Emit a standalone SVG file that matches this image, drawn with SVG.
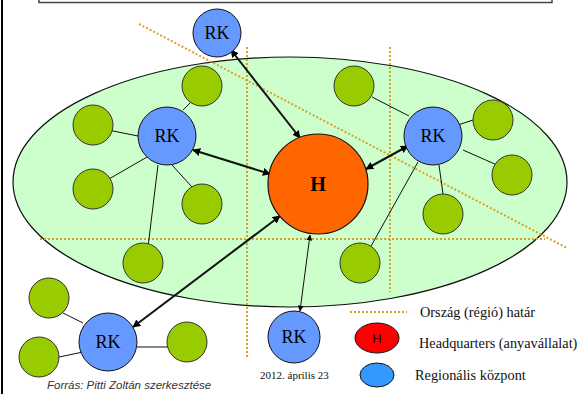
<svg xmlns="http://www.w3.org/2000/svg" width="587" height="394" viewBox="0 0 587 394">
<style>
.bd{stroke:#d9a024;stroke-width:2;stroke-dasharray:2,2;fill:none}
.g{fill:#99cc00;stroke:#333;stroke-width:1}
.rk{fill:#6699ff;stroke:#111;stroke-width:1}
.thin{stroke:#111;stroke-width:1;fill:none}
.bold{stroke:#111;stroke-width:2;fill:none;marker-start:url(#ah);marker-end:url(#ah)}
.rkt{font-family:"Liberation Serif",serif;font-size:18px;fill:#000;text-anchor:middle}
.leg{font-family:"Liberation Serif",serif;font-size:14.3px;fill:#111}
</style>
<defs>
<marker id="ah" viewBox="0 0 10 10" refX="9" refY="5" markerWidth="4" markerHeight="4" orient="auto-start-reverse" markerUnits="strokeWidth">
<path d="M0,0 L10,5 L0,10 z" fill="#000"/>
</marker>
<marker id="ahs" viewBox="0 0 10 10" refX="9" refY="5" markerWidth="6" markerHeight="6" orient="auto-start-reverse" markerUnits="strokeWidth">
<path d="M0,0 L10,5 L0,10 z" fill="#000"/>
</marker>
</defs>
<rect x="0" y="0" width="587" height="394" fill="#fff"/>
<rect x="1" y="0" width="2" height="394" fill="#000"/>
<rect x="39" y="-5" width="513" height="7.5" fill="#fff" stroke="#444" stroke-width="1.5"/>

<g id="region">
<ellipse cx="290" cy="182" rx="277" ry="125" fill="#ccffcc" stroke="#111" stroke-width="1.2"/>
</g>

<g id="borders">
<line class="bd" x1="247" y1="47" x2="247" y2="357"/>
<line class="bd" x1="390" y1="47" x2="390" y2="292"/>
<line class="bd" x1="40" y1="239" x2="545" y2="239"/>
<line class="bd" x1="139" y1="24" x2="567" y2="248"/>
</g>

<g id="connectors">
<line class="thin" x1="183" y1="110" x2="192" y2="101"/>
<line class="thin" x1="138" y1="136" x2="108" y2="130"/>
<line class="thin" x1="147" y1="157" x2="109" y2="179"/>
<line class="thin" x1="172" y1="165" x2="192" y2="187"/>
<line class="thin" x1="158" y1="165" x2="148" y2="247"/>
<line class="thin" x1="409" y1="116" x2="372" y2="97"/>
<line class="thin" x1="458" y1="125" x2="473" y2="120"/>
<line class="thin" x1="463" y1="150" x2="497" y2="165"/>
<line class="thin" x1="439" y1="165" x2="443" y2="194"/>
<line class="thin" x1="418" y1="162" x2="370" y2="248"/>
<line class="thin" x1="63" y1="313" x2="83" y2="323"/>
<line class="thin" x1="59" y1="357" x2="83" y2="352"/>
<line class="thin" x1="137" y1="347" x2="168" y2="347"/>
<line class="bold" x1="231" y1="50" x2="300" y2="138"/>
<line class="bold" x1="193" y1="150" x2="270" y2="174"/>
<line class="bold" x1="408" y1="146" x2="366" y2="169"/>
<line class="bold" x1="280" y1="216" x2="133" y2="327"/>
<line x1="310" y1="235" x2="300" y2="311" stroke="#111" stroke-width="1" marker-start="url(#ahs)" marker-end="url(#ahs)"/>
</g>

<g id="leaves">
<circle class="g" cx="202" cy="86" r="20"/>
<circle class="g" cx="93" cy="125" r="20"/>
<circle class="g" cx="93" cy="189" r="20"/>
<circle class="g" cx="202" cy="204" r="20"/>
<circle class="g" cx="143" cy="263" r="20"/>
<circle class="g" cx="354" cy="86" r="20"/>
<circle class="g" cx="493" cy="120" r="20"/>
<circle class="g" cx="512" cy="175" r="20"/>
<circle class="g" cx="443" cy="214" r="20"/>
<circle class="g" cx="360" cy="263" r="20"/>
<circle class="g" cx="49" cy="298" r="20"/>
<circle class="g" cx="39" cy="357" r="20"/>
<circle class="g" cx="187" cy="342" r="20"/>
</g>

<g id="hq">
<circle cx="318" cy="184" r="50" fill="#ff6600" stroke="#111" stroke-width="1.2"/>
<text x="318" y="191" font-family="Liberation Serif,serif" font-size="20" font-weight="bold" text-anchor="middle">H</text>
</g>
<g id="rk-top">
<circle class="rk" cx="217" cy="33" r="24"/>
<text class="rkt" x="217" y="39" font-size="16">RK</text>
</g>
<g id="rk-left">
<circle class="rk" cx="167" cy="136" r="29"/>
<text class="rkt" x="167" y="142">RK</text>
</g>
<g id="rk-right">
<circle class="rk" cx="433" cy="136" r="29"/>
<text class="rkt" x="433" y="142">RK</text>
</g>
<g id="rk-bottom">
<circle class="rk" cx="294" cy="337" r="26"/>
<text class="rkt" x="294" y="343">RK</text>
</g>
<g id="rk-bottomleft">
<circle class="rk" cx="108" cy="342" r="29"/>
<text class="rkt" x="108" y="348">RK</text>
</g>

<g id="legend">
<line class="bd" x1="350" y1="312" x2="407" y2="312"/>
<text class="leg" x="420" y="317">Ország (régió) határ</text>
<ellipse cx="377" cy="338" rx="22" ry="15" fill="#ff0000" stroke="#111" stroke-width="1"/>
<text x="377" y="343" font-family="Liberation Sans,sans-serif" font-size="13" text-anchor="middle" fill="#330000">H</text>
<text class="leg" x="419" y="348">Headquarters (anyavállalat)</text>
<ellipse cx="377" cy="375" rx="17" ry="12" fill="#3399ff" stroke="#111" stroke-width="1"/>
<text class="leg" x="415" y="380">Regionális központ</text>
</g>
<text x="260" y="379" font-family="Liberation Serif,serif" font-size="11" fill="#111">2012. április 23</text>
<text x="47" y="389" font-family="Liberation Sans,sans-serif" font-size="11.5" font-style="italic" fill="#333">Forrás: Pitti Zoltán szerkesztése</text>
</svg>
